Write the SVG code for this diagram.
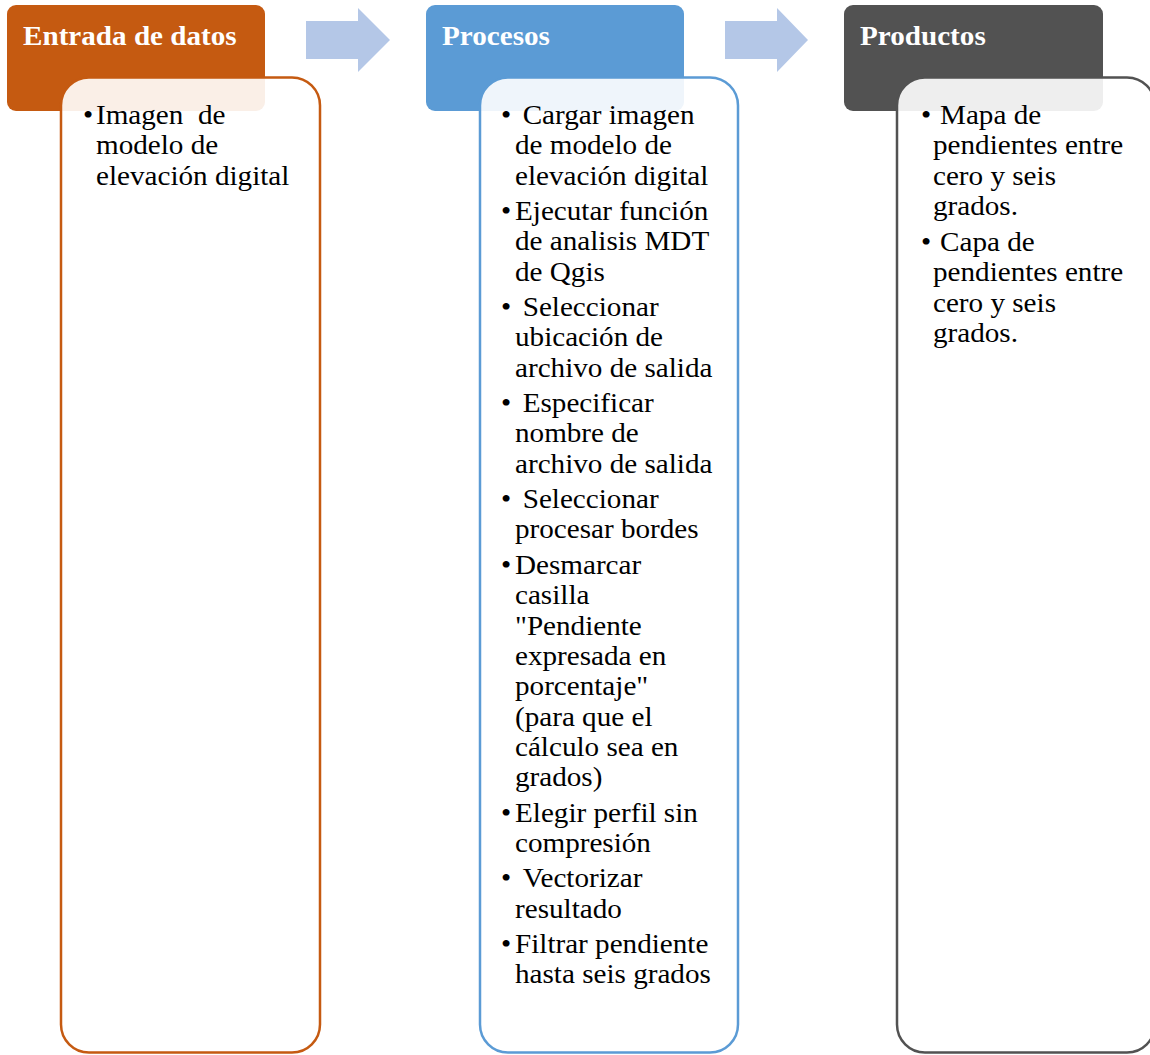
<svg xmlns="http://www.w3.org/2000/svg" width="1150" height="1055" viewBox="0 0 1150 1055">
<style>
.hd{font-family:"Liberation Serif","Times New Roman",serif;font-weight:bold;font-size:26.5px;fill:#ffffff}
.tx{font-family:"Liberation Serif","Times New Roman",serif;font-size:26.5px;fill:#000000}
.body{fill:#ffffff;fill-opacity:0.9;stroke-width:2.5}
.arr{fill:#B4C7E7}
</style>
<rect width="1150" height="1055" fill="#ffffff"/>
<g id="connectors">
<polygon class="arr" points="306,21 358,21 358,8 390,40 358,72 358,59 306,59"/>
<polygon class="arr" points="725,21 777,21 777,8 808,40 777,72 777,59 725,59"/>
</g>
<g id="node-entrada">
<rect x="7" y="5" width="258" height="106" rx="9" fill="#C55A11"/>
<g transform="translate(23 0) scale(1.1 1)"><text class="hd" x="0" y="45">Entrada de datos</text></g>
<rect class="body" x="61" y="77.5" width="259" height="975" rx="28" stroke="#C55A11"/>
<g transform="translate(96 0) scale(1.1 1)">
<text class="tx" x="-11.8" y="124">•</text>
<text class="tx" x="0" y="124">Imagen&#160; de</text>
<text class="tx" x="0" y="154.5">modelo de</text>
<text class="tx" x="0" y="185">elevación digital</text>
</g>
</g>
<g id="node-procesos">
<rect x="426" y="5" width="258" height="106" rx="9" fill="#5B9BD5"/>
<g transform="translate(442 0) scale(1.1 1)"><text class="hd" x="0" y="45">Procesos</text></g>
<rect class="body" x="480" y="77.5" width="258" height="975" rx="28" stroke="#5B9BD5"/>
<g transform="translate(515 0) scale(1.1 1)">
<text class="tx" x="-12.7" y="124">•</text><text class="tx" x="7" y="124">Cargar imagen</text>
<text class="tx" x="0" y="154.5">de modelo de</text>
<text class="tx" x="0" y="185">elevación digital</text>
<text class="tx" x="-12.7" y="220">•</text><text class="tx" x="0" y="220">Ejecutar función</text>
<text class="tx" x="0" y="250.5">de analisis MDT</text>
<text class="tx" x="0" y="281">de Qgis</text>
<text class="tx" x="-12.7" y="316">•</text><text class="tx" x="7" y="316">Seleccionar</text>
<text class="tx" x="0" y="346.5">ubicación de</text>
<text class="tx" x="0" y="377">archivo de salida</text>
<text class="tx" x="-12.7" y="412">•</text><text class="tx" x="7" y="412">Especificar</text>
<text class="tx" x="0" y="442.5">nombre de</text>
<text class="tx" x="0" y="473">archivo de salida</text>
<text class="tx" x="-12.7" y="508">•</text><text class="tx" x="7" y="508">Seleccionar</text>
<text class="tx" x="0" y="538.5">procesar bordes</text>
<text class="tx" x="-12.7" y="574">•</text><text class="tx" x="0" y="574">Desmarcar</text>
<text class="tx" x="0" y="604.5">casilla</text>
<text class="tx" x="0" y="635">"Pendiente</text>
<text class="tx" x="0" y="665">expresada en</text>
<text class="tx" x="0" y="695.5">porcentaje"</text>
<text class="tx" x="0" y="726">(para que el</text>
<text class="tx" x="0" y="756">cálculo sea en</text>
<text class="tx" x="0" y="786">grados)</text>
<text class="tx" x="-12.7" y="822">•</text><text class="tx" x="0" y="822">Elegir perfil sin</text>
<text class="tx" x="0" y="852.5">compresión</text>
<text class="tx" x="-12.7" y="887.5">•</text><text class="tx" x="7" y="887.5">Vectorizar</text>
<text class="tx" x="0" y="918">resultado</text>
<text class="tx" x="-12.7" y="953">•</text><text class="tx" x="0" y="953">Filtrar pendiente</text>
<text class="tx" x="0" y="983.5">hasta seis grados</text>
</g>
</g>
<g id="node-productos">
<rect x="844" y="5" width="259" height="106" rx="9" fill="#525252"/>
<g transform="translate(860 0) scale(1.1 1)"><text class="hd" x="0" y="45">Productos</text></g>
<rect class="body" x="897" y="77.5" width="258" height="975" rx="28" stroke="#525252"/>
<g transform="translate(933 0) scale(1.1 1)">
<text class="tx" x="-10.9" y="124">•</text><text class="tx" x="6.4" y="124">Mapa de</text>
<text class="tx" x="0" y="154.5">pendientes entre</text>
<text class="tx" x="0" y="185">cero y seis</text>
<text class="tx" x="0" y="215.5">grados.</text>
<text class="tx" x="-10.9" y="251">•</text><text class="tx" x="6.4" y="251">Capa de</text>
<text class="tx" x="0" y="281.5">pendientes entre</text>
<text class="tx" x="0" y="312">cero y seis</text>
<text class="tx" x="0" y="342.5">grados.</text>
</g>
</g>
</svg>
